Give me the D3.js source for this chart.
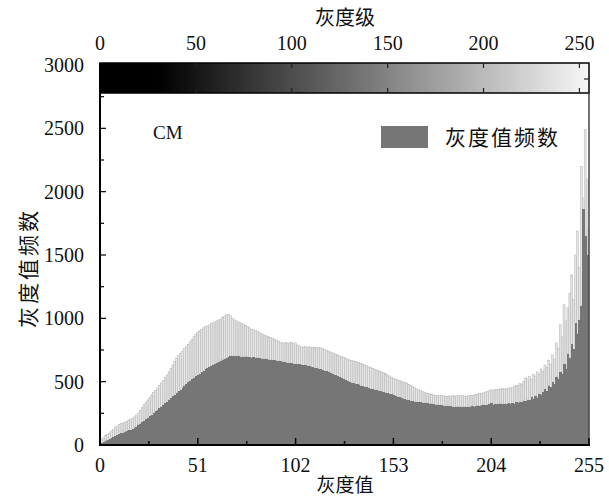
<!DOCTYPE html>
<html>
<head>
<meta charset="utf-8">
<script src="https://cdn.jsdelivr.net/npm/d3@7"></script>
<style>
  body { margin: 0; background: #fff; }
  svg text { fill: #111; }
</style>
</head>
<body>
<div id="chart"></div>
<script>
// Gray-level histogram data
var grayLevels = d3.range(0, 256);

// dark bars: frequency of each gray value
var freqValues = [
  5,12,20,30,38,45,52,60,68,76,85,92,98,104,110,116,
  122,130,138,146,158,168,178,190,202,214,228,240,252,265,277,290,
  303,316,330,343,356,370,384,397,411,424,438,452,466,480,494,507,
  520,532,543,553,564,575,586,597,607,616,625,633,640,648,656,664,
  672,680,688,694,700,703,701,699,700,697,698,696,695,697,693,690,
  692,689,687,684,682,680,681,678,675,673,672,669,666,664,660,656,
  654,651,648,646,644,642,640,638,636,633,630,628,625,622,617,614,
  610,605,601,597,592,588,583,578,569,563,556,549,542,536,529,520,
  512,505,498,493,488,483,478,473,468,463,459,455,450,446,442,438,
  434,430,426,422,418,414,411,406,400,394,387,381,376,370,365,360,
  356,352,349,346,343,340,338,336,334,333,332,329,327,324,322,319,
  317,315,313,311,308,307,306,304,303,302,301,300,300,299,300,301,
  300,302,305,303,306,309,310,313,316,314,318,320,332,318,322,320,
  322,325,321,326,324,328,326,330,324,336,332,340,338,348,345,356,
  352,380,362,390,375,402,396,420,440,430,465,455,500,480,540,520,
  580,560,640,600,720,690,800,760,960,880,990,1100,1860,1650,1500,1500
];

// light bars: upper end of each gray value (spread)
var upperValues = [
  30,45,60,75,85,95,110,125,142,150,160,168,174,180,186,192,
  200,210,222,236,253,272,295,318,338,356,375,395,415,432,450,470,
  490,510,532,553,578,605,632,660,688,706,724,742,760,775,795,815,
  835,855,872,890,900,912,925,935,940,948,958,965,972,980,988,995,
  1005,1015,1028,1032,1020,1000,988,980,972,965,958,949,942,935,925,915,
  909,902,895,888,880,872,866,860,854,848,842,836,828,820,812,806,
  805,808,804,806,810,800,806,790,782,775,772,778,770,775,772,768,
  770,766,768,767,760,755,748,742,735,728,722,716,710,704,698,692,
  686,680,672,668,664,660,655,650,644,638,632,626,617,612,606,600,
  594,588,582,576,570,562,553,545,535,525,520,515,510,505,498,494,
  490,480,470,460,452,443,436,430,424,418,411,406,402,398,395,392,
  390,388,389,387,387,385,388,386,390,385,388,390,386,389,387,385,
  388,392,390,395,398,402,405,408,411,418,422,428,435,430,440,436,
  442,438,446,440,448,444,452,450,462,470,468,485,480,500,530,515,
  540,520,560,545,577,560,600,580,632,610,670,640,711,680,806,760,
  949,860,1107,980,1083,1200,1344,1150,1500,1690,1400,2200,1950,2490,2100,1700
];

var xTicks = [0, 51, 102, 153, 204, 255];
var topTicks = [0, 50, 100, 150, 200, 250];
var yTicks = [0, 500, 1000, 1500, 2000, 2500, 3000];

var seriesName = "灰度值频数";
var xTitle = "灰度值";
var yTitle = "灰度值频数";
var topTitle = "灰度级";
var sampleLabel = "CM";

// ---- layout ----
var W = 609, H = 498;
var pLeft = 100, pRight = 589, pTop = 65, pBottom = 445;
var cbarBottom = 93; // colour bar sits above the plotting area
var serif = "'Liberation Serif', 'Times New Roman', serif";
var cjk = "'Noto Sans CJK SC', sans-serif";

var svg = d3.select("#chart").append("svg")
  .attr("width", W).attr("height", H);

var x = d3.scaleLinear().domain([0, 255]).range([pLeft, pRight]);
var y = d3.scaleLinear().domain([0, 3000]).range([pBottom, pTop]);
var bw = x(1) - x(0);

var defs = svg.append("defs");
defs.append("clipPath").attr("id", "plotClip")
  .append("rect").attr("x", pLeft).attr("y", cbarBottom)
  .attr("width", pRight - pLeft).attr("height", pBottom - cbarBottom);

// gradient for the gray-level colour bar
var grayColor = d3.scaleLinear().domain([30, 255]).range(["#000000", "#f6f6f6"]).clamp(true);
var grad = defs.append("linearGradient").attr("id", "grayGrad")
  .attr("x1", "0%").attr("x2", "100%").attr("y1", "0%").attr("y2", "0%");
grad.selectAll("stop").data(grayLevels.filter(d => d % 5 === 0 || d === 255)).enter().append("stop")
  .attr("offset", d => (d / 255 * 100) + "%")
  .attr("stop-color", d => grayColor(d));

var plot = svg.append("g").attr("clip-path", "url(#plotClip)");

// light spread bars
plot.selectAll("rect.upper").data(grayLevels).enter().append("rect")
  .attr("class", "upper")
  .attr("x", d => x(d) - bw / 2)
  .attr("width", bw)
  .attr("y", d => y(upperValues[d]))
  .attr("height", d => y(freqValues[d]) - y(upperValues[d]))
  .style("fill", "#e6e6e6")
  .style("stroke", "#b4b4b4")
  .style("stroke-width", 0.5);

// dark frequency bars
plot.selectAll("rect.freq").data(grayLevels).enter().append("rect")
  .attr("class", "freq")
  .attr("x", d => x(d) - bw / 2)
  .attr("width", bw + 0.6)
  .attr("y", d => y(freqValues[d]))
  .attr("height", d => pBottom - y(freqValues[d]))
  .attr("shape-rendering", "crispEdges")
  .style("fill", "#767676");

// ---- colour bar ----
svg.append("rect")
  .attr("x", pLeft).attr("y", pTop - 2)
  .attr("width", pRight - pLeft).attr("height", cbarBottom - pTop + 2)
  .style("fill", "url(#grayGrad)")
  .style("stroke", "#000").style("stroke-width", 1.5);

// top axis ticks on colour bar
var topAxis = svg.append("g");
topAxis.selectAll("line.t").data(topTicks).enter().append("line")
  .attr("x1", d => x(d)).attr("x2", d => x(d))
  .attr("y1", pTop - 2).attr("y2", pTop + 3)
  .style("stroke", "#222").style("stroke-width", 1.2);
topAxis.selectAll("line.b").data(topTicks).enter().append("line")
  .attr("x1", d => x(d)).attr("x2", d => x(d))
  .attr("y1", cbarBottom).attr("y2", cbarBottom - 5)
  .style("stroke", "#222").style("stroke-width", 1.2);
svg.append("line").attr("x1", pRight).attr("x2", pRight - 5)
  .attr("y1", (pTop + cbarBottom) / 2).attr("y2", (pTop + cbarBottom) / 2)
  .style("stroke", "#222").style("stroke-width", 1.2);
topAxis.selectAll("text").data(topTicks).enter().append("text")
  .attr("x", d => x(d)).attr("y", 50)
  .attr("text-anchor", "middle")
  .style("font-family", serif).style("font-size", "20px")
  .text(d => d);
svg.append("text").attr("x", 345).attr("y", 25)
  .attr("text-anchor", "middle")
  .style("font-family", cjk).style("font-size", "20px")
  .text(topTitle);

// ---- frame ----
svg.append("line").attr("x1", pRight).attr("x2", pRight).attr("y1", cbarBottom).attr("y2", pBottom)
  .style("stroke", "#444").style("stroke-width", 1.5);
svg.append("line").attr("x1", pLeft).attr("x2", pLeft).attr("y1", pTop - 2).attr("y2", pBottom + 1)
  .style("stroke", "#000").style("stroke-width", 2);
svg.append("line").attr("x1", pLeft - 1).attr("x2", pRight + 1).attr("y1", pBottom).attr("y2", pBottom)
  .style("stroke", "#000").style("stroke-width", 2);

// y ticks (inward)
var yMinor = d3.range(250, 3000, 500);
svg.append("g").selectAll("line").data(yTicks.slice(0, -1).concat(yMinor)).enter().append("line")
  .attr("x1", pLeft).attr("x2", d => pLeft + (d % 500 === 0 ? 6 : 4))
  .attr("y1", d => y(d)).attr("y2", d => y(d))
  .style("stroke", "#000").style("stroke-width", 1.2);
svg.append("g").selectAll("text").data(yTicks).enter().append("text")
  .attr("x", 84).attr("y", d => y(d) + 7)
  .attr("text-anchor", "end")
  .style("font-family", serif).style("font-size", "20px")
  .text(d => d);

// x ticks (inward)
var xMinor = xTicks.slice(0, -1).map(d => d + 25.5);
svg.append("g").selectAll("line").data(xTicks.concat(xMinor)).enter().append("line")
  .attr("x1", d => x(d)).attr("x2", d => x(d))
  .attr("y1", pBottom).attr("y2", d => pBottom - (xTicks.indexOf(d) >= 0 ? 7 : 4))
  .style("stroke", "#000").style("stroke-width", 1.5);
svg.append("g").selectAll("text").data(xTicks).enter().append("text")
  .attr("x", d => x(d)).attr("y", 472)
  .attr("text-anchor", "middle")
  .style("font-family", serif).style("font-size", "20px")
  .text(d => d);

// axis titles
svg.append("text").attr("x", 345).attr("y", 492)
  .attr("text-anchor", "middle")
  .style("font-family", cjk).style("font-size", "19px")
  .text(xTitle);
svg.append("text")
  .attr("transform", "translate(36,268) rotate(-90)")
  .attr("text-anchor", "middle")
  .style("font-family", cjk).style("font-size", "21px")
  .style("letter-spacing", "3px")
  .text(yTitle);

// legend and sample label
svg.append("rect").attr("x", 381).attr("y", 126).attr("width", 47).attr("height", 22)
  .style("fill", "#767676");
svg.append("text").attr("x", 445).attr("y", 145)
  .style("font-family", cjk).style("font-size", "21px")
  .style("letter-spacing", "2px")
  .text(seriesName);
svg.append("text").attr("x", 153).attr("y", 139)
  .style("font-family", serif).style("font-size", "19px")
  .text(sampleLabel);
</script>
</body>
</html>
